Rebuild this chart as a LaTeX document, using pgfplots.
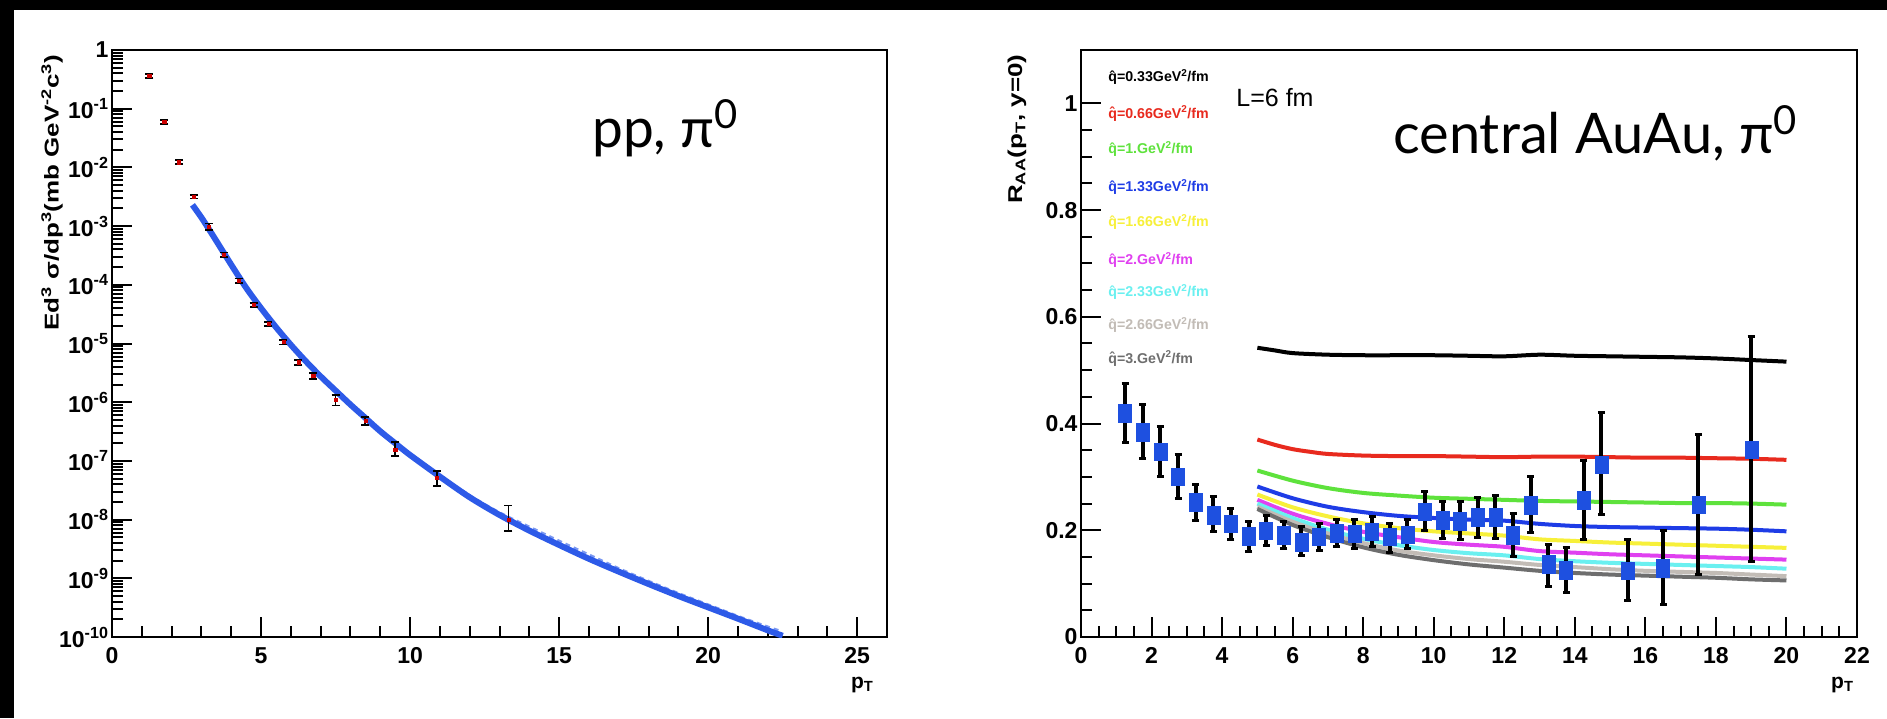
\documentclass[border=0pt]{standalone}
\usepackage{pgfplots}
\pgfplotsset{compat=1.18}
\usepackage{fontspec}
\setmainfont{Liberation Sans}
\newfontfamily\keyfont{Lato}
\definecolor{rred}{HTML}{E82A1E}
\definecolor{rgreen}{HTML}{5EE23C}
\definecolor{rblue}{HTML}{1E3CE6}
\definecolor{ryellow}{HTML}{F7F03A}
\definecolor{rmagenta}{HTML}{E040F0}
\definecolor{rcyan}{HTML}{6AF0F0}
\definecolor{rlgray}{HTML}{C2BCB6}
\definecolor{rdgray}{HTML}{6E6E6E}
\definecolor{ptblue}{HTML}{1E50E0}
\definecolor{curveblue}{HTML}{2D5AE8}
\definecolor{curveblue2}{HTML}{7A98F2}
\pgfplotsset{
  rootaxis/.style={
    scale only axis, anchor=south west, clip=true,
    axis line style={line width=2pt},
    tick align=inside, xtick pos=left, ytick pos=left,
    major tick length=20pt, minor tick length=11pt,
    tick style={line width=2pt, black},
    ticklabel style={font=\bfseries\fontsize{23}{23}\selectfont},
    /pgf/number format/assume math mode=true,
    xticklabel style={yshift=-7pt},
    xlabel style={font=\bfseries\fontsize{21}{21}\selectfont, at={(rel axis cs:1,0)}, anchor=north east, yshift=-37pt},
    ylabel style={font=\bfseries\fontsize{20}{20}\selectfont, anchor=east, xscale=1.3},
  },
  lline/.style={line width=4pt, smooth},
}
\begin{document}
\begin{tikzpicture}
\useasboundingbox (0pt,0pt) rectangle (1887pt,718pt);
\fill[black] (0pt,0pt) rectangle (1887pt,718pt);
\fill[white] (14pt,0pt) rectangle (1887pt,708pt);

% ---------------- left panel ----------------
\begin{axis}[rootaxis,
  at={(112pt,81pt)}, width=775pt, height=587pt,
  xmin=0, xmax=26, ymode=log, ymin=1e-10, ymax=1,
  xtick={0,5,10,15,20,25}, minor x tick num=4,
  ytick={1e-10,1e-9,1e-8,1e-7,1e-6,1e-5,1e-4,1e-3,1e-2,1e-1,1},
  yticklabels={10\textsuperscript{-10},10\textsuperscript{-9},10\textsuperscript{-8},10\textsuperscript{-7},10\textsuperscript{-6},10\textsuperscript{-5},10\textsuperscript{-4},10\textsuperscript{-3},10\textsuperscript{-2},10\textsuperscript{-1},1},
  minor ytick={2e-10,3e-10,4e-10,5e-10,6e-10,7e-10,8e-10,9e-10,
    2e-9,3e-9,4e-9,5e-9,6e-9,7e-9,8e-9,9e-9,
    2e-8,3e-8,4e-8,5e-8,6e-8,7e-8,8e-8,9e-8,
    2e-7,3e-7,4e-7,5e-7,6e-7,7e-7,8e-7,9e-7,
    2e-6,3e-6,4e-6,5e-6,6e-6,7e-6,8e-6,9e-6,
    2e-5,3e-5,4e-5,5e-5,6e-5,7e-5,8e-5,9e-5,
    2e-4,3e-4,4e-4,5e-4,6e-4,7e-4,8e-4,9e-4,
    2e-3,3e-3,4e-3,5e-3,6e-3,7e-3,8e-3,9e-3,
    2e-2,3e-2,4e-2,5e-2,6e-2,7e-2,8e-2,9e-2,
    0.2,0.3,0.4,0.5,0.6,0.7,0.8,0.9},
  xlabel={p\textsubscript{T}},
  xlabel style={xshift=-10pt},
  ylabel={Ed\textsuperscript{3} σ/dp\textsuperscript{3}(mb GeV\textsuperscript{-2}c\textsuperscript{3})},
  ylabel style={at={([xshift=-60pt]rel axis cs:0,1)}},
]
\addplot[curveblue2, line width=4pt, dash pattern=on 5pt off 4pt, smooth] coordinates {
  (10,1.30e-7) (11,5.5e-8) (12,2.5e-8) (13,1.28e-8) (14,7.3e-9) (15,4.2e-9)
  (16,2.45e-9) (17,1.43e-9) (18,8.7e-10) (19,5.4e-10) (20,3.45e-10) (21,2.2e-10) (22,1.45e-10) (22.45,1.22e-10)};
\addplot[curveblue, line width=6pt, smooth] coordinates {
  (2.7,2.3e-3) (3.0,1.4e-3) (3.25,8.9e-4) (3.5,5.6e-4) (4.0,2.2e-4) (4.5,8.9e-5)
  (5.0,4.0e-5) (5.5,1.9e-5) (6.0,9.5e-6) (6.5,5.0e-6) (7.0,2.75e-6) (7.5,1.58e-6)
  (8.0,9.1e-7) (8.5,5.4e-7) (9.0,3.2e-7) (9.5,2.0e-7) (10.0,1.26e-7) (11.0,5.4e-8)
  (12.0,2.4e-8) (13.0,1.2e-8) (14.0,6.5e-9) (15.0,3.7e-9) (16.0,2.15e-9)
  (17.0,1.3e-9) (18.0,8.0e-10) (19.0,5.0e-10) (20.0,3.2e-10) (21.0,2.05e-10)
  (22.0,1.3e-10) (22.5,1.05e-10)};
\addplot[only marks, mark=square*, mark size=1.6pt, color=red!80!black,
  error bars/.cd, y dir=both, y explicit,
  error bar style={line width=1.8pt, black},
  error mark options={rotate=90, mark size=4pt, line width=1.8pt, black}]
  table[x=x, y=y, y error plus=ep, y error minus=em, row sep=\\] {
  x y ep em \\
  1.25 0.363 0.03 0.03 \\
  1.75 0.0596 0.005 0.005 \\
  2.25 0.0123 0.0010 0.0010 \\
  2.75 3.18e-3 0.22e-3 0.22e-3 \\
  3.25 9.8e-4 1.3e-4 1.2e-4 \\
  3.75 3.25e-4 0.3e-4 0.3e-4 \\
  4.25 1.18e-4 0.1e-4 0.1e-4 \\
  4.75 4.53e-5 0.4e-5 0.4e-5 \\
  5.25 2.16e-5 0.2e-5 0.2e-5 \\
  5.75 1.06e-5 0.1e-5 0.1e-5 \\
  6.25 4.8e-6 0.5e-6 0.5e-6 \\
  6.75 2.84e-6 0.35e-6 0.35e-6 \\
  7.5 1.09e-6 0.24e-6 0.21e-6 \\
  8.5 4.83e-7 0.75e-7 0.7e-7 \\
  9.5 1.57e-7 0.5e-7 0.37e-7 \\
  10.9 5.1e-8 1.6e-8 1.4e-8 \\
  13.3 1.0e-8 0.74e-8 0.36e-8 \\
};
\end{axis}
\node[anchor=base west, inner sep=0pt] at (592pt,570pt)
  {\keyfont\fontsize{55}{55}\selectfont pp, π\raisebox{19pt}{\fontsize{40}{40}\selectfont 0}};

% ---------------- right panel ----------------
\begin{axis}[rootaxis,
  at={(1081pt,81pt)}, width=776pt, height=587pt,
  xmin=0, xmax=22, ymin=0, ymax=1.1,
  xtick={0,2,4,6,8,10,12,14,16,18,20,22}, minor x tick num=3,
  ytick={0,0.2,0.4,0.6,0.8,1}, minor y tick num=3,
  xlabel={p\textsubscript{T}},
  ylabel={R\textsubscript{AA}(p\textsubscript{T}, y=0)},
  ylabel style={at={([xshift=-64pt]rel axis cs:0,1)}},
]
\addplot[lline, black] coordinates {(5,0.542) (5.5,0.537) (6,0.532) (7,0.529) (8,0.528) (9,0.528) (10,0.528) (11,0.527) (12,0.526) (13,0.529) (14,0.527) (15,0.526) (16,0.525) (17,0.524) (18,0.522) (19,0.519) (20,0.516)};
\addplot[lline, rred] coordinates {(5,0.370) (5.5,0.360) (6,0.352) (6.5,0.347) (7,0.343) (8,0.340) (9,0.339) (10,0.339) (11,0.338) (12,0.337) (13,0.338) (14,0.338) (15,0.337) (16,0.336) (17,0.336) (18,0.335) (19,0.334) (20,0.332)};
\addplot[lline, rgreen] coordinates {(5,0.312) (6,0.293) (7,0.279) (8,0.270) (9,0.265) (10,0.261) (11,0.259) (12,0.257) (13,0.255) (14,0.254) (15,0.253) (16,0.252) (17,0.251) (18,0.251) (19,0.250) (20,0.248)};
\addplot[lline, rblue] coordinates {(5,0.282) (6,0.260) (7,0.244) (8,0.234) (9,0.227) (10,0.223) (11,0.220) (12,0.218) (13,0.212) (14,0.208) (15,0.206) (16,0.205) (17,0.204) (18,0.203) (19,0.201) (20,0.198)};
\addplot[lline, ryellow] coordinates {(5,0.267) (6,0.243) (7,0.226) (8,0.213) (9,0.204) (10,0.198) (11,0.194) (12,0.190) (13,0.183) (14,0.180) (15,0.177) (16,0.175) (17,0.173) (18,0.171) (19,0.169) (20,0.167)};
\addplot[lline, rmagenta] coordinates {(5,0.257) (6,0.231) (7,0.212) (8,0.197) (9,0.187) (10,0.178) (11,0.173) (12,0.169) (13,0.161) (14,0.158) (15,0.155) (16,0.153) (17,0.151) (18,0.149) (19,0.147) (20,0.145)};
\addplot[lline, rcyan] coordinates {(5,0.250) (6,0.223) (7,0.201) (8,0.184) (9,0.172) (10,0.163) (11,0.157) (12,0.153) (13,0.146) (14,0.142) (15,0.139) (16,0.137) (17,0.135) (18,0.133) (19,0.131) (20,0.128)};
\addplot[lline, rlgray] coordinates {(5,0.244) (6,0.216) (7,0.194) (8,0.176) (9,0.162) (10,0.153) (11,0.146) (12,0.141) (13,0.135) (14,0.131) (15,0.127) (16,0.124) (17,0.122) (18,0.120) (19,0.117) (20,0.114)};
\addplot[lline, rdgray] coordinates {(5,0.240) (6,0.210) (7,0.187) (8,0.168) (9,0.154) (10,0.144) (11,0.136) (12,0.130) (13,0.124) (14,0.120) (15,0.117) (16,0.115) (17,0.113) (18,0.111) (19,0.108) (20,0.106)};

\addplot[only marks, mark=square*, mark size=6.5pt, mark options={yscale=1.35, fill=ptblue, draw=ptblue},
  error bars/.cd, y dir=both, y explicit,
  error bar style={line width=4pt, black},
  error mark options={rotate=90, mark size=3.5pt, line width=3pt, black}]
  table[x=x, y=y, y error plus=ep, y error minus=em, row sep=\\] {
  x y ep em \\
  1.25 0.419 0.056 0.054 \\
  1.75 0.384 0.052 0.049 \\
  2.25 0.347 0.048 0.046 \\
  2.75 0.300 0.042 0.040 \\
  3.25 0.253 0.032 0.035 \\
  3.75 0.228 0.035 0.031 \\
  4.25 0.212 0.029 0.029 \\
  4.75 0.189 0.027 0.029 \\
  5.25 0.199 0.029 0.027 \\
  5.75 0.191 0.025 0.025 \\
  6.25 0.178 0.029 0.025 \\
  6.75 0.188 0.025 0.026 \\
  7.25 0.195 0.025 0.026 \\
  7.75 0.194 0.026 0.028 \\
  8.25 0.197 0.028 0.028 \\
  8.75 0.188 0.025 0.030 \\
  9.25 0.192 0.028 0.026 \\
  9.75 0.235 0.038 0.035 \\
  10.25 0.219 0.034 0.034 \\
  10.75 0.217 0.036 0.035 \\
  11.25 0.225 0.036 0.039 \\
  11.75 0.225 0.041 0.040 \\
  12.25 0.191 0.040 0.041 \\
  12.75 0.247 0.053 0.052 \\
  13.25 0.136 0.038 0.041 \\
  13.75 0.125 0.042 0.042 \\
  14.25 0.256 0.075 0.073 \\
  14.75 0.323 0.098 0.093 \\
  15.5 0.124 0.059 0.055 \\
  16.5 0.129 0.070 0.069 \\
  17.5 0.248 0.131 0.130 \\
  19.0 0.351 0.212 0.210 \\
};

\begin{scope}[every node/.style={anchor=west, inner sep=0pt, font=\bfseries\fontsize{14.2}{14.2}\selectfont}]
\node[text=black]    at (axis cs:0.77,1.049) {\^{q}=0.33GeV\textsuperscript{2}/fm};
\node[text=rred]     at (axis cs:0.77,0.981) {\^{q}=0.66GeV\textsuperscript{2}/fm};
\node[text=rgreen]   at (axis cs:0.77,0.915) {\^{q}=1.GeV\textsuperscript{2}/fm};
\node[text=rblue]    at (axis cs:0.77,0.843) {\^{q}=1.33GeV\textsuperscript{2}/fm};
\node[text=ryellow]  at (axis cs:0.77,0.778) {\^{q}=1.66GeV\textsuperscript{2}/fm};
\node[text=rmagenta] at (axis cs:0.77,0.706) {\^{q}=2.GeV\textsuperscript{2}/fm};
\node[text=rcyan]    at (axis cs:0.77,0.647) {\^{q}=2.33GeV\textsuperscript{2}/fm};
\node[text=rlgray]   at (axis cs:0.77,0.584) {\^{q}=2.66GeV\textsuperscript{2}/fm};
\node[text=rdgray]   at (axis cs:0.77,0.522) {\^{q}=3.GeV\textsuperscript{2}/fm};
\end{scope}
\node[anchor=center, inner sep=0pt, font=\fontsize{25}{25}\selectfont] at (axis cs:5.5,1.011) {L=6 fm};
\end{axis}
\node[anchor=base west, inner sep=0pt] at (1393pt,564pt)
  {\keyfont\fontsize{56}{56}\selectfont central AuAu, π\raisebox{19pt}{\fontsize{40}{40}\selectfont 0}};
\end{tikzpicture}
\end{document}
